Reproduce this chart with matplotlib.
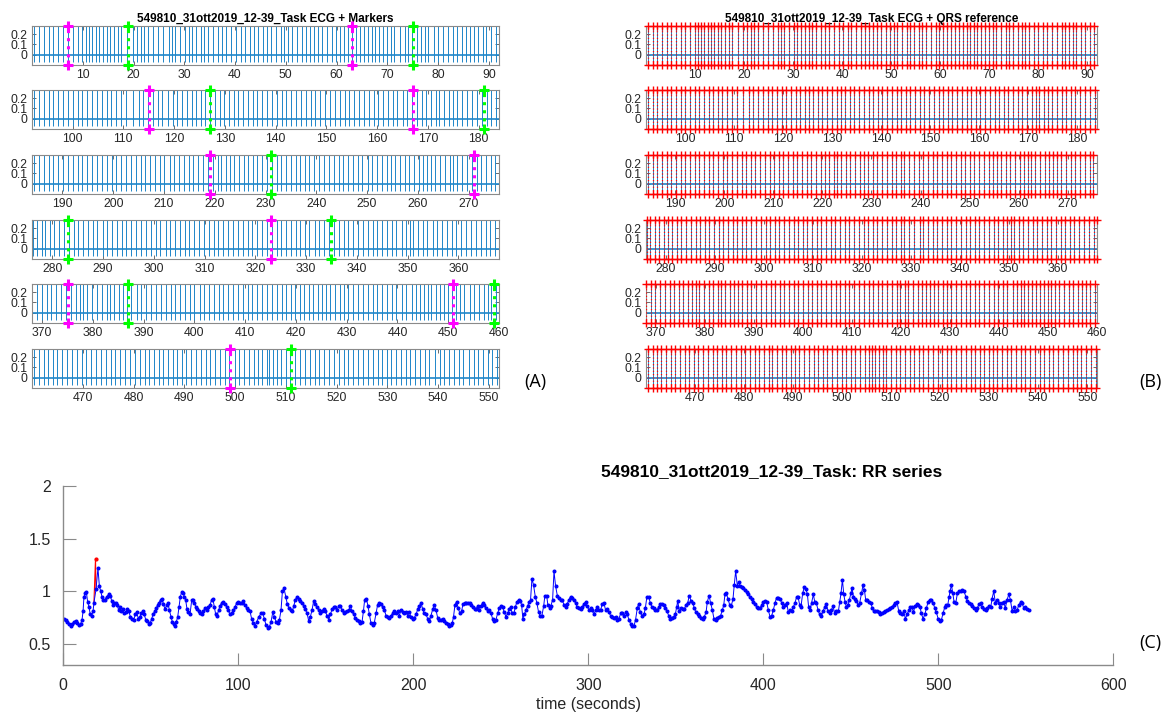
import numpy as np
import matplotlib
matplotlib.use("Agg")
import matplotlib.pyplot as plt

plt.rcParams['font.family'] = ['Liberation Sans', 'DejaVu Sans']

# =======================
# DATA
# =======================
rec_name = "549810_31ott2019_12-39_Task"

# RR series: beat time (s) and RR interval (s)
rr_time = [
    0.4, 1.4, 2.3, 3.3, 4.2, 5.2, 6.1, 7.1, 8.0, 9.0,
    9.9, 10.7, 11.3, 11.8, 12.6, 13.2, 13.9, 14.7, 15.4, 16.2,
    17.0, 17.5, 18.7, 19.8, 20.6, 21.4, 22.1, 22.9, 23.8, 24.8,
    25.9, 26.9, 27.6, 28.2, 29.2, 30.1, 30.9, 31.6, 32.4, 33.2,
    33.9, 34.7, 35.6, 36.6, 37.4, 38.3, 39.3, 40.2, 41.2, 41.9,
    42.9, 43.8, 44.6, 45.5, 46.3, 47.1, 48.0, 49.0, 49.7, 50.5,
    51.3, 52.2, 53.2, 53.9, 54.7, 55.6, 56.4, 57.2, 58.1, 59.1,
    59.8, 60.6, 61.5, 62.3, 63.1, 63.8, 64.6, 65.4, 66.1, 66.9,
    67.6, 68.4, 69.2, 69.9, 70.7, 71.4, 72.4, 73.4, 74.1, 74.9,
    75.8, 76.6, 77.4, 78.1, 79.1, 80.0, 81.0, 81.9, 82.9, 83.8,
    84.8, 85.5, 86.3, 87.1, 87.8, 88.8, 89.5, 90.5, 91.4, 92.4,
    93.4, 94.3, 95.3, 96.2, 97.2, 98.1, 99.1, 100.0, 101.0, 101.9,
    102.9, 103.8, 104.8, 105.7, 106.7, 107.6, 108.6, 109.5,
    110.5, 111.8, 113.0, 113.9, 114.9, 115.8, 116.8, 117.7, 118.7, 119.7,
    120.6, 121.6, 122.5, 123.5, 124.4, 125.2, 126.1, 127.1, 128.0, 129.0,
    129.9, 130.9, 131.7, 132.6, 133.6, 134.5, 135.5, 136.4, 137.4, 138.3,
    139.3, 140.2, 141.2, 142.1, 143.1, 144.0, 145.0, 145.9, 146.9, 147.8,
    148.8, 149.7, 150.7, 151.7, 152.6, 153.6, 154.5, 155.5, 156.4, 157.4,
    158.3, 159.3, 160.2, 161.2, 162.1, 163.1, 164.0, 165.0, 165.9, 166.9,
    167.8, 168.8, 169.7, 170.7, 171.5, 172.2, 173.2, 174.1, 174.9, 175.8,
    176.8, 177.7, 178.7, 179.6, 180.6, 181.6, 182.5, 183.5, 184.4, 185.4,
    186.3, 187.3, 188.2, 189.2, 190.1, 191.1, 192.0, 193.0, 193.9, 194.9,
    195.8, 196.8, 197.7, 198.7, 199.7, 200.6, 201.6, 202.5, 203.5, 204.4,
    205.4, 206.3, 207.3, 208.2, 209.2, 210.1, 211.1, 212.0, 213.0, 213.9,
    214.9, 215.8, 216.8, 217.7, 218.7, 219.7, 220.6,
    221.3, 222.3, 223.0, 223.8, 224.7, 225.7, 226.6, 227.6, 228.4, 229.3,
    230.3, 231.2, 232.2, 233.1, 234.1, 235.0, 236.0, 236.7, 237.7, 238.6,
    239.6, 240.5, 241.5, 242.5, 243.4, 244.4, 245.3, 246.3, 247.2, 248.2,
    249.1, 250.1, 251.0, 252.0, 252.9, 253.9, 254.8, 255.6, 256.5, 257.5,
    258.3, 259.2, 260.2, 261.1, 261.9, 262.6, 263.4, 264.4, 265.3, 266.3,
    267.0, 267.8, 268.7, 269.7, 270.6, 271.6, 272.5, 273.5, 274.5, 275.2,
    276.2, 276.9, 277.9, 278.6, 279.6, 280.4, 281.3, 282.3, 283.2, 284.2,
    285.1, 286.1, 287.0, 288.0, 288.9, 289.9, 290.8, 291.8, 292.7, 293.7,
    294.6, 295.6, 296.5, 297.5, 298.5, 299.4, 300.4, 301.3, 302.3, 303.2,
    304.2, 305.1, 306.1, 307.0, 308.0, 308.9, 309.9, 310.8, 311.8, 312.7,
    313.7, 314.6, 315.6, 316.5, 317.5, 318.5, 319.4, 320.4, 321.3, 322.3,
    323.2, 324.2, 325.1, 326.1, 327.0, 328.0, 328.7, 329.7, 330.6,
    331.8, 332.6, 333.5, 334.5, 335.4, 336.4, 337.4, 338.3, 339.3, 340.2,
    341.2, 342.1, 343.1, 344.0, 345.0, 345.9, 346.9, 347.8, 348.8, 349.7,
    350.5, 351.1, 352.0, 353.0, 353.9, 354.9, 355.8, 356.8, 357.7, 358.7,
    359.6, 360.6, 361.5, 362.5, 363.4, 364.4, 365.4, 366.3, 367.3, 368.0,
    369.0, 369.9, 370.9, 371.8, 372.8, 373.7, 374.7, 375.6, 376.6, 377.4,
    378.1, 378.9, 379.8, 380.8, 381.7, 382.7, 383.4, 384.2, 385.2, 385.9,
    386.7, 387.6, 388.6, 389.5, 390.5, 391.4, 392.4, 393.4, 394.3, 395.3,
    396.2, 397.2, 398.1, 399.1, 400.0, 401.0, 401.9, 402.9, 403.8, 404.8,
    405.7, 406.7, 407.6, 408.6, 409.5, 410.5, 411.4, 412.4, 413.4, 414.3,
    415.3, 416.2, 417.2, 418.1, 419.1, 419.8, 420.8, 421.5, 422.5, 423.4,
    424.4, 425.2, 425.9, 426.7, 427.6, 428.6, 429.4, 430.3, 431.3, 432.2,
    433.2, 434.1, 435.1, 436.0, 437.0, 437.9, 438.9, 439.8, 440.8, 441.7,
    442.9, 443.7, 444.4, 445.2, 446.0, 446.7, 447.5, 448.4, 449.2, 450.0,
    450.7, 451.5, 452.3, 453.2, 454.2, 455.1, 456.1, 457.0, 457.8, 458.5,
    459.5, 460.4, 461.4, 462.3, 463.1, 464.1, 465.0, 466.0, 466.9, 467.9,
    468.8, 469.8, 470.7, 471.7, 472.6, 473.6, 474.5, 475.5, 476.4, 477.4,
    478.3, 479.3, 480.2, 481.2, 482.2, 483.1, 484.1, 485.0, 485.8, 486.7,
    487.7, 488.6, 489.6, 490.3, 491.3, 492.3, 493.2, 494.2, 495.1, 496.1,
    497.0, 498.0, 498.9, 499.9, 500.8, 501.8, 502.7, 503.7, 504.6, 505.4,
    506.2, 506.7, 507.5, 508.3, 509.0, 510.0, 510.9, 511.9, 512.8, 513.8,
    514.7, 515.7, 516.6, 517.6, 518.5, 519.5, 520.4, 521.4, 522.3, 523.3,
    524.3, 525.2, 526.2, 527.1, 528.1, 529.0, 530.0, 530.7, 531.7, 532.6,
    533.6, 534.5, 535.5, 536.4, 537.4, 538.3, 539.3, 540.3, 541.2, 542.2,
    543.1, 544.1, 545.0, 546.0, 547.1, 547.9, 548.8, 549.8, 550.7, 551.7,
]
rr_value = [
    0.74, 0.73, 0.71, 0.69, 0.67, 0.69, 0.71, 0.72, 0.70, 0.68,
    0.69, 0.73, 0.81, 0.95, 0.98, 0.99, 0.90, 0.85, 0.78, 0.77,
    0.81, 0.89, 1.02, 1.22, 1.05, 1.00, 0.95, 0.92, 0.92, 0.95,
    0.97, 0.96, 0.91, 0.87, 0.89, 0.89, 0.87, 0.82, 0.85, 0.81,
    0.83, 0.79, 0.80, 0.83, 0.81, 0.76, 0.74, 0.73, 0.78, 0.80,
    0.74, 0.76, 0.79, 0.81, 0.78, 0.73, 0.72, 0.69, 0.70, 0.74,
    0.78, 0.81, 0.84, 0.87, 0.89, 0.92, 0.93, 0.88, 0.83, 0.87,
    0.89, 0.82, 0.76, 0.71, 0.69, 0.67, 0.71, 0.76, 0.85, 0.95,
    0.99, 0.98, 0.95, 0.92, 0.83, 0.80, 0.78, 0.92, 0.92, 0.89,
    0.85, 0.83, 0.81, 0.79, 0.78, 0.81, 0.84, 0.82, 0.85, 0.87,
    0.92, 0.93, 0.85, 0.78, 0.77, 0.82, 0.86, 0.89, 0.90, 0.88,
    0.85, 0.82, 0.78, 0.79, 0.82, 0.85, 0.89, 0.90, 0.89, 0.89,
    0.91, 0.87, 0.84, 0.82, 0.81, 0.74, 0.70, 0.67,
    0.71, 0.76, 0.79, 0.79, 0.74, 0.68, 0.65, 0.66, 0.71, 0.80,
    0.76, 0.71, 0.70, 0.73, 0.82, 1.00, 1.03, 0.95, 0.88, 0.84,
    0.82, 0.81, 0.86, 0.92, 0.95, 0.93, 0.91, 0.89, 0.86, 0.83,
    0.79, 0.72, 0.76, 0.82, 0.91, 0.88, 0.85, 0.82, 0.79, 0.81,
    0.83, 0.81, 0.77, 0.73, 0.78, 0.83, 0.85, 0.85, 0.82, 0.86,
    0.86, 0.82, 0.79, 0.80, 0.81, 0.82, 0.86, 0.81, 0.78, 0.75,
    0.73, 0.72, 0.70, 0.71, 0.81, 0.92, 0.93, 0.86, 0.78, 0.70,
    0.68, 0.70, 0.79, 0.87, 0.89, 0.88, 0.85, 0.82, 0.77, 0.76,
    0.75, 0.77, 0.79, 0.81, 0.79, 0.81, 0.77, 0.82, 0.80, 0.79,
    0.80, 0.77, 0.80, 0.76, 0.74, 0.75, 0.78, 0.83, 0.86, 0.89,
    0.83, 0.79, 0.78, 0.74, 0.72, 0.77, 0.83, 0.87, 0.82, 0.75,
    0.73, 0.73, 0.74, 0.72, 0.70, 0.69, 0.67,
    0.68, 0.70, 0.76, 0.87, 0.90, 0.84, 0.79, 0.81, 0.88, 0.89,
    0.89, 0.89, 0.89, 0.87, 0.85, 0.83, 0.83, 0.86, 0.82, 0.86,
    0.89, 0.87, 0.84, 0.81, 0.82, 0.79, 0.74, 0.72, 0.73, 0.79,
    0.84, 0.86, 0.85, 0.80, 0.76, 0.79, 0.83, 0.85, 0.79, 0.79,
    0.85, 0.90, 0.92, 0.91, 0.87, 0.74, 0.78, 0.82, 0.86, 0.90,
    0.92, 1.12, 1.06, 0.95, 0.89, 0.80, 0.77, 0.77, 0.86, 0.96,
    0.96, 0.87, 0.84, 0.86, 0.92, 1.19, 1.05, 0.96, 0.94, 0.92,
    0.92, 0.87, 0.85, 0.88, 0.92, 0.95, 0.94, 0.92, 0.89, 0.85,
    0.84, 0.83, 0.85, 0.88, 0.90, 0.86, 0.82, 0.84, 0.82, 0.78,
    0.82, 0.85, 0.82, 0.82, 0.88, 0.89, 0.82, 0.83, 0.80, 0.77,
    0.76, 0.75, 0.76, 0.73, 0.74, 0.79, 0.79, 0.77, 0.80, 0.78,
    0.73, 0.69, 0.67, 0.67, 0.73, 0.84, 0.88, 0.80, 0.77,
    0.78, 0.84, 0.95, 0.95, 0.89, 0.85, 0.84, 0.82, 0.82, 0.85,
    0.88, 0.88, 0.87, 0.84, 0.81, 0.77, 0.74, 0.75, 0.76, 0.78,
    0.85, 0.91, 0.81, 0.84, 0.83, 0.83, 0.87, 0.89, 0.96, 0.91,
    0.89, 0.84, 0.80, 0.78, 0.77, 0.75, 0.74, 0.76, 0.80, 0.90,
    0.96, 0.89, 0.82, 0.74, 0.73, 0.75, 0.76, 0.77, 0.82, 0.87,
    0.97, 0.98, 0.93, 0.87, 0.86, 0.93, 1.06, 1.19, 1.05, 1.09,
    1.05, 1.04, 1.03, 1.01, 0.99, 0.97, 0.95, 0.93, 0.90, 0.88,
    0.85, 0.84, 0.84, 0.87, 0.90, 0.91, 0.90, 0.82, 0.76, 0.77,
    0.82, 0.89, 0.94, 0.94, 0.93, 0.89, 0.85, 0.87, 0.89, 0.80,
    0.82, 0.81, 0.85, 0.89, 0.95, 0.95, 0.87, 0.85, 0.98, 1.04,
    1.02, 0.97, 0.85, 0.82, 0.89, 0.97, 0.90, 0.89, 0.82, 0.78,
    0.77, 0.81, 0.85, 0.88, 0.81, 0.79, 0.82, 0.86, 0.79, 0.81,
    0.81, 0.90, 0.98, 1.11, 0.97, 0.90, 0.85, 0.87, 0.92, 0.98,
    1.03, 0.95, 0.93, 0.91, 0.87, 0.89, 0.98, 1.06, 1.01, 0.92,
    0.92, 0.90, 0.89, 0.84, 0.81, 0.81, 0.81, 0.80, 0.78, 0.79,
    0.80, 0.81, 0.82, 0.83, 0.84, 0.85, 0.87, 0.89, 0.90, 0.81,
    0.79, 0.78, 0.81, 0.74, 0.78, 0.82, 0.85, 0.85, 0.80, 0.86,
    0.88, 0.87, 0.85, 0.79, 0.74, 0.78, 0.84, 0.90, 0.92, 0.92,
    0.89, 0.84, 0.80, 0.74, 0.72, 0.73, 0.79, 0.85, 0.87, 0.87,
    0.95, 1.00, 1.06, 0.98, 0.90, 0.89, 0.98, 1.00, 1.00, 1.01,
    1.00, 0.95, 0.91, 0.89, 0.88, 0.86, 0.84, 0.82, 0.84, 0.88,
    0.89, 0.85, 0.83, 0.82, 0.84, 0.86, 0.85, 0.93, 1.00, 0.89,
    0.92, 0.89, 0.85, 0.89, 0.90, 0.84, 0.92, 0.97, 0.92, 0.81,
    0.85, 0.81, 0.82, 0.87, 0.90, 0.89, 0.84, 0.85, 0.83, 0.82,
]
assert len(rr_time) == len(rr_value)

# original (uncorrected) beat shown in red
artifact_time = [17.5, 18.4, 18.7]
artifact_value = [0.89, 1.31, 1.02]

# markers on the ECG (s)
marker_start = [7, 63, 115, 167, 219, 271, 323, 375, 451, 499]
marker_end = [19, 75, 127, 181, 231, 283, 335, 387, 459, 511]

# ECG split in 6 rows
segment_edges = [0, 92, 184, 276, 368, 460, 552]

# =======================
# STYLE
# =======================
ecg_color = '#1f86c9'
box_color = '#8a8a8a'
txt_color = '#262626'
ecg_ylim = (-0.1, 0.28)
W, H = 1175, 715


def fig_rect(x0, y0, x1, y1):
    # pixel box -> figure fraction
    return [x0 / W, 1 - y1 / H, (x1 - x0) / W, (y1 - y0) / H]


def style_ecg_axes(ax, lo, hi):
    ax.set_xlim(lo, hi)
    ax.set_ylim(*ecg_ylim)
    ax.set_yticks([0, 0.1, 0.2])
    ax.set_yticklabels(['0', '0.1', '0.2'])
    first = (lo // 10 + 1) * 10
    ax.set_xticks(np.arange(first, hi + 0.1, 10))
    ax.tick_params(direction='in', top=True, right=True, length=3,
                   width=0.6, color='#555555', labelsize=8.8,
                   labelcolor=txt_color, pad=3)
    for s in ax.spines.values():
        s.set_color(box_color)
        s.set_linewidth(0.8)


def draw_ecg(ax, lo, hi):
    beats = [t for t in rr_time if lo <= t <= hi]
    ax.vlines(beats, -0.075, 0.5, color=ecg_color, lw=0.7)
    ax.axhline(0, color=ecg_color, lw=1.2)
    return beats


fig = plt.figure(figsize=(W / 100, H / 100), dpi=100)

row_tops = [26, 90, 155, 220, 284, 349]
row_h = 39

# =======================
# (A) ECG + MARKERS
# =======================
for i in range(6):
    lo, hi = segment_edges[i], segment_edges[i + 1]
    ax = fig.add_axes(fig_rect(32, row_tops[i], 499, row_tops[i] + row_h))
    draw_ecg(ax, lo, hi)
    for tlist, col in ((marker_start, '#ff00ff'), (marker_end, '#00ff00')):
        for t in tlist:
            if lo <= t <= hi:
                ax.plot([t, t], list(ecg_ylim), ':', color=col, lw=2.2,
                        zorder=5)
                ax.plot([t, t], list(ecg_ylim), ls='none', color=col,
                        marker='+', ms=7, mew=2.2, clip_on=False,
                        zorder=6)
    style_ecg_axes(ax, lo, hi)
    if i == 0:
        ax.set_title(rec_name + " ECG + Markers", fontsize=8.5,
                     weight='bold', pad=3)

# =======================
# (B) ECG + QRS REFERENCE
# =======================
for i in range(6):
    lo, hi = segment_edges[i], segment_edges[i + 1]
    ax = fig.add_axes(fig_rect(646, row_tops[i], 1097, row_tops[i] + row_h))
    beats = draw_ecg(ax, lo, hi)
    ax.vlines(beats, ecg_ylim[0], ecg_ylim[1], colors='red',
              linestyles=':', lw=0.9, zorder=4)
    for yy in ecg_ylim:
        ax.plot(beats, [yy] * len(beats), '+', color='red', ms=6, mew=1.0,
                clip_on=False, zorder=5)
    style_ecg_axes(ax, lo, hi)
    if i == 0:
        ax.set_title(rec_name + " ECG + QRS reference", fontsize=8.5,
                     weight='bold', pad=3)

# =======================
# (C) RR SERIES
# =======================
ax = fig.add_axes(fig_rect(63.3, 486, 1113.3, 665))
ax.plot(artifact_time, artifact_value, '-', color='red', lw=0.8)
ax.plot(artifact_time[1], artifact_value[1], '.', color='red', ms=4)
ax.plot(rr_time, rr_value, '-', color='#0000ff', lw=0.7, marker='.',
        ms=3.8)
ax.set_xlim(0, 600)
ax.set_ylim(0.3, 2)
ax.set_xticks([0, 100, 200, 300, 400, 500, 600])
ax.set_yticks([0.5, 1, 1.5, 2])
ax.set_yticklabels(['0.5', '1', '1.5', '2'])
ax.spines['top'].set_visible(False)
ax.spines['right'].set_visible(False)
for s in ('left', 'bottom'):
    ax.spines[s].set_color(box_color)
    ax.spines[s].set_linewidth(1.0)
ax.tick_params(direction='in', length=9, width=0.8, color=box_color,
               labelsize=11.5, labelcolor=txt_color, pad=9)
ax.set_xlabel('time (seconds)', fontsize=11.5, color=txt_color, labelpad=3)

fig.text(772 / W, 1 - 472 / H, rec_name + ": RR series", fontsize=12.5,
         weight='bold', ha='center', va='center', color='black')

# panel letters
for lbl, x, y in (("(A)", 535, 382), ("(B)", 1150, 382), ("(C)", 1150, 643)):
    fig.text(x / W, 1 - y / H, lbl, fontsize=13, ha='center', va='center',
             family=['Open Sans', 'DejaVu Sans'])

plt.savefig("out.png", dpi=100)
